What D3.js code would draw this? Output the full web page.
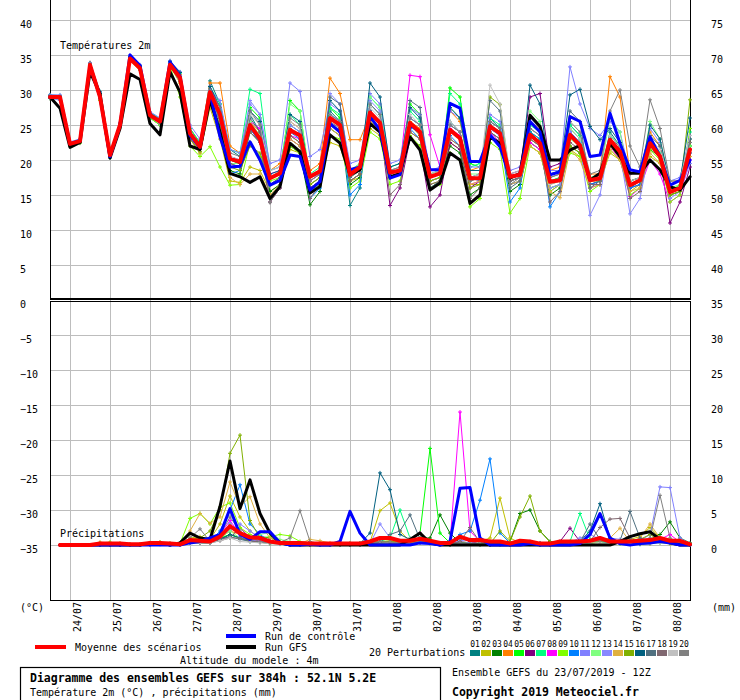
<!DOCTYPE html>
<html><head><meta charset="utf-8">
<script src="https://cdn.jsdelivr.net/npm/d3@7"></script>
<style>
body{margin:0;background:#fff;}
svg text{font-family:"DejaVu Sans Mono",monospace;fill:#000;}
</style></head><body>
<svg id="c" width="740" height="700"></svg>
<script>
// ---------- categories / ticks ----------
const dates = ["24/07","25/07","26/07","27/07","28/07","29/07","30/07","31/07","01/08","02/08","03/08","04/08","05/08","06/08","07/08","08/08"];
const dateHours = [12,36,60,84,108,132,156,180,204,228,252,276,300,324,348,372];
const leftTicks = [40,35,30,25,20,15,10,5,0,-5,-10,-15,-20,-25,-30,-35];
const rightTicks = [75,70,65,60,55,50,45,40,35,30,25,20,15,10,5,0];
const upperGrid = [40,35,30,25,20,15,10,5];
const lowerGrid = [-5,-10,-15,-20,-25,-30,-35];
const memberNames = ["01","02","03","04","05","06","07","08","09","10","11","12","13","14","15","16","17","18","19","20"];
const memberColors = ["#008080","#c0c000","#008000","#ff8000","#00ff00","#800080","#00ff80","#ff00ff","#80ff00","#0080ff","#8080ff","#80ff80","#8888ff","#e0b040","#80b000","#006080","#507080","#806870","#c0c0c0","#808080"];

// ---------- temperature 2m (°C), every 6h from 23/07 12Z (65 values) ----------
const tempMean = [29.0,29.0,22.3,22.7,33.6,29.0,20.7,25.0,34.5,33.1,26.4,25.5,33.6,31.8,23.8,21.9,29.7,26.5,20.2,19.7,25.0,23.0,17.4,18.1,24.3,23.5,17.6,18.4,26.0,25.0,17.9,19.0,26.8,25.3,18.2,18.5,25.3,24.0,17.6,18.1,24.3,23.1,17.4,17.4,24.8,23.8,17.6,17.9,23.6,22.4,16.9,17.1,23.6,22.1,17.1,17.4,22.9,21.2,16.4,17.1,22.4,20.5,15.4,16.0,21.5];
const tempControl = [29.0,29.0,22.3,22.8,33.5,29.0,20.5,25.0,35.0,33.5,26.5,25.5,34.0,32.0,23.5,21.8,29.5,23.3,19.0,19.1,22.6,20.0,16.4,17.1,20.7,20.5,15.7,16.9,25.2,24.0,18.6,19.0,26.2,24.3,17.4,17.9,25.0,24.0,18.6,18.6,28.1,27.4,19.8,19.8,23.6,21.9,17.6,17.9,25.5,24.0,17.9,18.3,26.2,25.5,20.5,20.7,26.7,22.4,18.6,18.3,23.3,20.5,16.4,17.1,20.0];
const tempGFS = [29.0,27.4,21.8,22.5,32.6,29.5,20.3,24.5,32.3,31.5,25.2,23.6,32.6,29.7,22.0,21.5,28.6,24.0,18.1,17.6,16.8,17.6,14.5,16.2,22.4,21.2,15.3,16.2,23.6,22.4,17.9,18.6,25.2,24.0,17.6,18.1,23.3,21.4,15.7,16.7,21.0,20.0,13.8,15.0,23.3,22.4,17.4,18.1,26.4,24.8,20.0,20.0,21.4,22.1,17.1,18.1,22.4,20.5,18.1,18.1,20.0,18.6,16.2,15.7,17.6];
const tempP01 = [29.3,29.2,22.0,22.5,33.8,29.8,20.3,24.8,34.8,33.5,26.0,25.0,34.0,32.5,24.5,22.3,31.3,28.0,21.5,20.5,26.5,24.0,17.5,18.0,25.0,24.0,16.5,17.5,27.0,25.5,13.5,16.0,28.0,26.5,18.5,18.5,26.0,25.0,17.0,17.5,25.5,24.0,17.0,17.5,26.0,24.5,16.5,17.0,24.0,22.5,16.0,16.5,25.0,23.5,17.0,17.5,24.0,22.0,16.0,17.0,23.0,21.0,15.5,16.0,23.0];
const tempP02 = [29.2,28.8,22.5,23.0,33.8,29.5,20.8,25.3,34.2,33.0,26.8,25.8,33.4,31.0,23.0,21.0,27.5,23.0,17.0,16.8,19.0,18.5,15.5,16.5,21.5,21.0,16.0,17.0,22.5,22.0,17.0,17.5,24.5,23.5,17.5,18.0,24.0,23.0,16.5,17.0,22.5,21.5,16.5,16.5,23.5,22.5,17.0,17.5,22.0,21.0,16.0,16.5,21.5,20.5,16.5,17.0,21.0,20.0,15.5,16.5,20.5,19.5,15.0,15.5,20.5];
const tempP03 = [28.8,28.7,22.2,22.8,33.4,29.0,20.6,24.9,34.3,33.0,26.3,25.3,33.5,31.5,23.5,21.5,28.5,25.0,18.5,18.0,24.0,22.5,15.5,16.5,22.0,21.0,13.6,15.5,24.5,23.5,16.5,17.5,25.5,24.5,17.5,18.0,23.0,22.0,16.0,17.0,22.0,21.0,15.0,16.0,24.0,23.0,15.5,16.5,22.5,21.5,15.0,16.0,22.0,21.0,17.0,17.5,22.5,21.5,17.0,17.5,21.5,20.5,15.0,15.5,22.0];
const tempP04 = [29.1,29.0,22.4,22.9,33.9,29.3,20.9,25.2,34.6,33.2,26.5,25.6,33.8,32.2,24.5,22.5,31.0,31.0,22.0,21.0,25.5,24.0,18.5,19.5,25.5,24.5,18.5,19.5,31.7,29.5,22.9,22.9,26.5,25.0,17.5,18.0,25.5,24.5,18.0,18.5,27.0,25.5,18.5,19.0,23.5,22.5,17.0,17.5,25.5,24.5,18.5,19.0,23.0,22.5,18.0,18.0,31.9,29.0,18.0,18.5,24.0,22.0,17.0,17.0,22.5];
const tempP05 = [28.9,29.0,22.3,22.6,33.5,28.8,20.6,25.0,34.4,33.0,26.2,25.4,33.5,31.8,24.0,22.0,29.0,26.0,20.0,19.5,27.5,26.0,17.5,18.0,28.5,27.0,17.0,18.0,27.5,26.0,18.0,19.0,27.0,25.5,18.0,18.5,28.0,26.5,17.5,18.0,30.3,29.0,19.5,19.0,25.0,24.0,17.5,18.0,24.0,23.0,17.0,17.5,24.5,23.0,17.5,17.5,23.5,22.0,16.5,17.0,23.0,21.0,15.5,16.5,22.0];
const tempP06 = [29.0,28.9,22.1,22.6,33.6,29.2,20.7,25.1,34.5,33.0,26.6,25.7,33.7,31.9,23.5,21.5,29.5,26.5,20.5,20.0,24.5,22.5,14.0,16.0,23.0,22.0,16.0,17.0,25.0,24.0,17.0,18.0,26.5,25.0,13.5,16.0,23.0,22.0,13.3,15.0,22.5,21.5,16.0,17.0,25.0,24.0,18.0,18.5,29.0,29.5,19.0,19.5,23.5,22.0,16.5,17.0,22.5,21.0,16.0,16.5,22.0,20.5,11.0,14.0,19.0];
const tempP07 = [29.1,29.1,22.5,22.9,33.7,29.6,20.9,25.3,34.7,33.4,26.8,25.9,34.0,32.4,24.5,22.5,30.5,28.0,21.5,21.0,30.1,29.5,18.5,19.0,26.5,25.0,18.0,19.0,27.5,26.5,18.5,19.5,29.0,27.5,19.0,19.5,27.0,25.5,18.0,18.5,29.5,28.0,19.0,19.5,26.0,25.0,17.5,18.0,25.0,24.0,17.0,17.5,25.0,23.5,17.0,17.5,23.5,22.0,16.5,17.0,22.5,21.0,15.5,16.0,24.0];
const tempP08 = [29.0,28.8,22.2,22.5,33.4,28.9,20.5,24.8,34.3,33.0,26.3,25.4,33.5,31.6,24.0,22.2,30.5,27.5,20.0,19.8,25.5,24.5,18.0,18.5,23.5,23.0,17.0,18.0,26.5,25.5,18.0,18.5,27.0,25.5,18.5,19.0,32.1,31.9,23.6,19.0,24.5,23.5,16.5,17.0,24.0,22.5,17.0,17.5,22.5,21.5,15.5,16.5,24.0,22.5,16.0,16.5,22.0,20.0,14.8,16.0,20.0,18.0,14.0,15.0,20.0];
const tempP09 = [29.0,28.7,22.0,22.4,33.5,28.5,20.5,24.6,34.2,32.8,26.0,25.0,33.4,29.0,22.0,20.5,21.9,19.0,16.4,16.5,22.5,20.5,17.0,17.5,22.0,21.0,15.5,16.5,23.5,23.0,16.0,17.0,24.0,23.0,16.5,17.0,23.5,22.0,16.0,16.5,21.0,20.0,13.3,14.5,22.5,21.5,12.4,14.5,22.0,21.0,15.5,16.5,21.0,20.5,15.5,16.5,21.5,20.0,15.0,16.0,21.5,20.0,14.0,15.0,24.5];
const tempP10 = [29.2,29.1,22.3,22.7,33.6,29.1,20.6,24.9,34.6,33.3,26.5,25.4,33.7,32.0,23.5,21.5,29.5,25.5,18.0,18.5,24.5,22.5,16.5,17.0,24.0,23.0,14.5,16.0,26.5,25.5,15.0,16.5,27.0,25.5,17.5,18.0,24.5,23.0,17.0,17.5,23.5,22.0,17.5,17.0,24.5,23.5,14.0,16.0,24.0,23.0,13.3,15.5,24.0,22.5,16.5,17.0,23.0,21.5,16.0,16.5,22.5,20.5,15.5,16.0,21.0];
const tempP11 = [29.3,29.3,22.6,23.0,33.9,29.7,21.0,25.4,35.0,33.6,26.9,26.0,34.2,32.6,25.0,23.0,30.0,28.5,21.5,21.0,28.0,26.5,19.5,20.0,31.0,29.8,20.5,21.5,28.0,27.0,19.5,20.0,29.5,28.0,19.5,20.0,27.5,26.5,18.5,19.0,27.0,26.0,19.0,19.0,26.5,25.5,18.5,19.0,26.0,24.5,18.5,18.5,33.3,28.0,24.5,23.5,25.5,24.0,18.0,18.5,24.5,22.5,17.0,17.5,23.5];
const tempP12 = [29.0,29.0,22.4,22.8,33.6,29.0,20.8,25.1,34.5,33.1,26.4,25.6,33.6,31.7,23.8,21.9,29.0,26.0,19.5,19.5,25.5,23.5,17.5,18.5,28.0,27.0,17.5,18.5,26.0,25.0,18.5,19.5,29.0,27.5,18.5,19.0,25.0,24.0,18.0,18.5,27.5,26.0,18.0,18.0,23.5,22.5,17.0,17.5,27.0,25.5,16.0,16.5,23.0,22.0,17.5,18.0,26.0,24.0,16.5,17.0,25.5,23.0,16.0,16.5,22.0];
const tempP13 = [28.9,28.5,22.1,22.6,33.4,28.9,20.4,24.7,34.4,32.9,26.2,25.2,33.5,31.5,23.8,22.0,30.0,27.5,20.5,20.0,28.5,26.5,18.5,19.0,25.0,24.0,17.5,18.0,29.5,28.0,18.5,19.0,28.5,27.0,18.0,18.5,26.0,25.0,17.0,17.5,25.0,24.0,17.5,18.0,24.5,23.5,16.5,17.0,23.0,22.0,16.0,16.5,24.0,22.0,12.1,15.0,23.0,21.0,12.3,14.5,22.0,20.5,14.5,15.5,19.5];
const tempP14 = [29.1,29.0,22.4,22.9,33.7,29.4,20.9,25.2,34.6,33.2,26.6,25.7,33.7,31.0,23.0,21.0,28.0,24.0,17.5,16.5,18.0,18.0,15.0,16.5,23.0,22.0,16.5,17.5,24.5,23.5,17.5,18.5,25.5,24.5,17.5,18.0,24.0,23.0,17.0,17.5,23.0,22.0,16.5,17.0,23.5,22.5,16.5,17.0,22.0,21.0,15.5,14.6,21.5,20.0,16.0,16.5,21.5,20.0,15.5,16.0,21.0,19.5,15.5,16.0,20.5];
const tempP15 = [29.0,28.9,22.3,22.7,33.5,29.1,20.7,25.0,34.4,33.1,26.4,25.5,33.6,31.3,23.0,21.2,28.0,24.5,19.0,18.5,22.0,21.0,16.5,17.5,23.5,22.5,16.5,17.5,25.0,24.0,17.0,18.0,26.0,24.5,17.5,18.0,25.0,23.5,17.0,17.5,24.0,23.0,16.0,16.5,29.0,27.9,17.5,18.0,23.0,22.0,16.5,17.0,22.0,21.0,17.0,17.0,22.0,20.5,16.5,17.0,22.0,20.5,15.0,15.5,28.6];
const tempP16 = [29.2,29.1,22.4,22.8,33.8,29.5,20.8,25.2,34.7,33.4,26.6,25.7,34.1,32.5,24.0,22.0,30.5,27.5,20.0,19.5,27.0,25.5,18.0,18.5,26.5,25.5,17.5,18.5,28.5,27.0,18.0,18.5,31.0,29.0,19.0,19.5,27.5,26.0,17.5,18.0,27.5,26.0,18.5,18.5,25.5,24.5,17.0,17.5,30.7,28.0,18.0,18.5,29.3,30.1,24.8,22.9,24.5,22.5,17.0,17.5,25.0,23.0,16.5,17.0,26.0];
const tempP17 = [29.0,29.0,22.2,22.6,33.5,29.0,20.6,24.9,34.4,33.0,26.4,25.5,33.5,31.5,23.5,21.5,29.0,26.0,19.5,19.0,26.0,24.0,16.5,17.5,24.5,23.5,16.0,17.0,29.0,28.0,17.5,18.5,27.0,25.5,18.0,18.5,28.5,27.5,16.0,17.0,25.0,24.0,17.5,18.0,28.5,27.0,16.0,17.0,24.5,23.5,17.5,18.0,27.0,25.5,16.0,17.0,23.0,22.0,16.5,17.0,23.5,22.0,15.5,16.0,23.0];
const tempP18 = [28.8,28.8,22.1,22.5,33.3,28.7,20.5,24.8,34.3,32.9,26.2,25.3,33.4,31.2,23.0,21.5,28.5,25.5,19.5,19.0,24.0,22.5,14.0,16.0,23.5,22.5,14.5,16.5,25.5,24.5,17.0,18.0,26.0,24.5,15.0,16.5,24.0,23.0,16.5,17.0,23.0,22.0,14.5,16.0,24.0,23.0,17.0,17.5,23.0,22.0,14.0,15.5,22.5,21.5,16.5,16.5,22.0,21.5,14.5,15.5,22.0,20.5,16.0,16.0,21.0];
const tempP19 = [29.1,29.1,22.4,22.8,33.7,29.2,20.8,25.1,34.6,33.2,26.5,25.6,33.7,32.0,24.0,22.0,29.5,26.5,20.5,20.0,26.5,25.0,18.5,19.0,25.5,24.5,18.0,18.5,26.5,25.5,18.0,18.5,27.5,26.0,18.5,19.0,26.5,25.0,18.0,18.5,25.5,24.0,17.5,18.0,30.7,28.0,18.0,18.5,24.5,23.5,16.5,17.0,24.5,23.0,17.0,17.5,23.5,22.0,17.0,17.5,23.0,21.5,17.0,17.0,23.5];
const tempP20 = [29.0,29.0,22.3,22.7,33.6,29.0,20.7,25.0,34.5,33.1,26.4,25.5,33.6,31.8,23.8,22.0,30.0,27.5,21.0,20.5,27.0,25.0,13.9,16.5,26.0,25.0,17.0,18.0,26.5,25.5,18.0,19.0,28.0,26.5,18.5,19.0,26.0,25.0,17.5,18.0,25.0,24.0,17.0,17.5,25.5,24.5,16.5,17.5,24.5,23.5,17.5,18.0,25.5,24.0,18.0,18.5,27.0,30.0,22.0,19.0,28.6,24.5,17.0,17.0,22.5];

// ---------- precipitation (mm / 6h), from 23/07 18Z (64 values) ----------
const precMean = [0,0,0,0,0.2,0.2,0.2,0.1, 0.1,0.3,0.3,0.2,0.1,0.7,0.6,0.5, 1.2,2.7,1.7,1.1,1.0,0.5,0.3,0.3, 0.3,0.2,0.2,0.2,0.2,0.2,0.2,0.5, 1.0,1.0,0.6,0.6,0.9,0.6,0.3,0.3, 1.2,0.7,0.7,0.5,0.5,0.2,0.6,0.5, 0.2,0.2,0.5,0.5,0.5,0.6,1.0,0.5, 0.5,0.5,0.6,0.7,1.0,0.6,0.6,0.1];
const precControl = [0,0,0,0,0,0,0,0, 0,0,0,0,0,0.3,0.5,1.0, 1.5,5.2,1.5,0.8,1.9,1.9,0.3,0, 0,0.1,0,0,0.5,4.8,1.7,0, 0,0,0,0,0.3,0.2,0,0.5, 8.1,8.2,1.0,0,0,0,0,0.2, 0,0,0,0,0.2,1.5,4.5,1.0, 0.2,0,0.2,0.3,0.5,0.3,0,0];
const precGFS = [0,0,0,0,0,0,0,0, 0,0.3,0.3,0,0.3,1.7,1.0,0.8, 5.5,12.0,5.2,9.3,4.5,1.7,0.3,0, 0,0,0,0,0,0,0,0, 0,0,0,0.8,1.7,0.3,0,0, 0,0,0,0,0,0,0,0, 0,0,0,0,0,0,0,0, 0.5,1.2,1.6,1.9,0.8,0.3,0,0];
const precP01 = [0,0,0,0,0.1,0.2,0.1,0, 0,0.2,0.2,0.1,0,0.5,0.4,0.6, 1.0,2.5,1.5,0.8,0.5,0.3,0.2,0.1, 0.1,0,0,0.1,0,0.2,0.1,0.3, 0.5,0.4,0.2,0.3,0.5,0.3,0.1,0, 0.3,0.2,0.1,0,0.1,0,0.2,0.3, 0,0,0.2,0.1,0.3,0.5,1.0,0.4, 0.2,0.3,0.1,0.2,0.5,0.3,0.2,0];
const precP02 = [0,0,0,0,0.3,0.3,0.2,0.1, 0.1,0.3,0.4,0.2,0.1,1.0,1.2,0.8, 3.0,7.0,4.0,2.0,1.0,0.5,0.3,0.2, 0.2,0.1,0.2,0.1,0.1,0.3,0.2,0.4, 4.9,6.0,2.0,0.5,0.4,0.3,0.2,0.1, 0.2,0.3,0.5,1.0,6.7,1.0,0.3,0.2, 0.1,0.1,0.2,0.3,0.2,0.4,0.5,0.3, 0.5,0.8,1.2,2.5,1.0,0.4,0.3,0.1];
const precP03 = [0,0,0,0,0.1,0.1,0.1,0, 0,0.2,0.2,0.1,0,0.4,0.3,0.3, 0.8,1.5,1.0,0.6,1.2,1.0,0.5,0.3, 0.2,0.1,0.1,0.1,0.2,0.1,0.1,0.3, 0.4,0.5,0.3,0.2,1.0,1.0,4.3,1.7, 0.3,0.2,0.1,0.2,0.3,0.5,4.5,5.0, 2.0,0.5,0.3,0.2,0.4,0.3,0.5,0.4, 0.3,0.4,0.5,0.8,1.5,3.3,1.0,0.3];
const precP04 = [0,0,0,0,0.2,0.1,0.1,0, 0,0.1,0.2,0.1,0,0.6,0.5,0.4, 1.0,2.0,1.5,0.8,0.6,0.3,0.2,0.2, 0.1,0.1,0,0.1,0.1,0,0.1,0.2, 0.5,0.5,0.3,0.3,0.4,0.2,0.1,0.1, 0.5,0.3,0.2,0.1,0.2,0.1,0.2,0.3, 0.1,0,0.2,0.3,0.2,0.3,0.6,0.4, 0.3,0.5,0.3,0.2,0.4,0.2,0.1,0];
const precP05 = [0,0,0,0,0.1,0.2,0.1,0, 0,0.2,0.3,0.1,0.1,0.8,0.6,0.5, 1.0,1.5,1.0,0.5,0.4,0.2,0.2,0.1, 0.1,0.1,0,0,0.1,0.1,0.1,0.3, 0.4,0.6,0.4,0.5,1.7,13.8,1.7,0.3, 0.4,0.2,0.2,0.1,0.1,0,0.2,0.2, 0.1,0.1,0.3,0.2,0.2,0.3,0.6,0.3, 0.2,0.3,0.4,0.3,0.5,0.3,0.2,0];
const precP06 = [0,0,0,0,0.1,0.1,0.1,0, 0,0.1,0.2,0.1,0,0.5,0.5,0.3, 1.0,1.0,2.5,1.0,0.6,0.3,0.2,0.1, 0.1,0,0.1,0,0,0.1,0.1,0.2, 0.4,0.3,0.3,0.2,0.5,0.4,0.2,0.1, 1.0,0.5,0.2,0.1,0.2,0.1,0.3,0.2, 0.1,0.1,0.5,2.4,0.5,0.3,0.4,0.3, 0.2,0.3,0.2,0.4,0.6,0.5,0.3,0];
const precP07 = [0,0,0,0,0.2,0.1,0.1,0, 0,0.2,0.2,0.1,0,0.4,0.5,0.5, 1.2,3.0,1.5,1.0,0.8,0.4,0.3,0.2, 0.1,0.1,0.1,0,0.1,0.1,0.2,0.3, 0.5,1.0,5.0,1.0,0.5,0.3,0.2,0.2, 0.3,0.2,0.2,0.1,0.1,0.2,0.2,0.3, 0.2,0.1,0.3,0.5,4.5,0.8,0.5,0.3, 0.2,0.3,0.4,0.3,0.5,0.4,0.3,0.1];
const precP08 = [0,0,0,0,0.1,0.1,0,0, 0,0.1,0.2,0.1,0,0.5,0.4,0.5, 1.5,3.5,1.5,0.8,0.6,0.3,0.2,0.1, 0.1,0.1,0,0,0.1,0,0.1,0.2, 0.4,0.5,0.3,0.5,1.7,0.5,0.3,0.3, 19.0,2.0,0.5,0.3,0.2,0.1,0.2,0.2, 0.1,0.1,0.2,0.3,0.2,0.3,0.4,0.3, 0.3,0.2,0.3,0.5,0.8,1.5,0.4,0.1];
const precP09 = [0,0,0,0,0.3,0.4,0.2,0.1, 0.1,0.3,0.3,0.2,0.2,3.8,4.5,3.0, 5.4,6.0,2.5,1.5,1.0,1.2,1.5,1.3, 0.5,0.3,0.2,0.1,0.2,0.1,0.2,0.3, 0.5,0.4,0.3,0.2,0.3,0.3,0.2,0.1, 0.3,0.2,0.1,0.1,0.2,0.1,0.2,0.3, 0.1,0.1,0.2,0.2,0.3,0.2,0.4,0.3, 0.2,0.2,0.4,0.3,0.3,0.2,0.2,0];
const precP10 = [0,0,0,0,0.1,0.1,0.1,0, 0,0.1,0.2,0.1,0,0.3,0.4,0.5, 2.0,5.0,8.6,3.0,1.5,0.5,0.3,0.2, 0.1,0.1,0.1,0,0,0.1,0.1,0.2, 0.3,0.4,0.3,0.2,0.3,0.2,0.1,0.2, 1.5,2.0,6.4,12.3,1.7,0.3,0.2,0.1, 0.1,0,0.2,0.3,0.2,0.3,0.5,0.2, 0.2,0.3,0.2,0.3,0.4,0.3,0.2,0];
const precP11 = [0,0,0,0,0.2,0.2,0.1,0.1, 0.1,0.2,0.3,0.2,0.1,0.6,0.5,0.5, 1.5,2.0,3.0,2.0,1.0,0.5,0.3,0.2, 0.2,0.1,0.1,0.1,0.1,0.2,0.1,0.3, 0.4,0.5,0.4,0.3,0.4,0.3,0.2,0.3, 0.5,0.3,0.2,0.2,0.3,0.2,0.3,0.3, 0.2,0.1,0.3,0.3,0.4,0.5,0.6,1.0, 0.8,0.5,0.6,1.5,8.3,8.2,1.0,0.2];
const precP12 = [0,0,0,0,0.1,0.1,0.1,0, 0,0.1,0.2,0.1,0,0.4,0.4,0.3, 1.0,2.0,1.0,0.8,1.5,1.8,0.8,0.5, 0.3,0.2,0.1,0.1,0.1,0.1,0.2,0.2, 0.4,0.4,0.5,0.3,0.6,0.5,0.3,0.2, 0.3,0.2,0.2,0.1,0.1,0.2,0.3,0.3, 0.2,0.1,0.2,0.3,0.5,0.4,0.3,0.2, 0.2,0.3,0.3,0.4,0.6,0.4,0.2,0.1];
const precP13 = [0,0,0,0,0.1,0.2,0.1,0, 0,0.2,0.2,0.1,0.1,0.5,0.4,0.4, 1.2,3.0,1.2,0.7,0.5,0.3,0.2,0.2, 0.1,0.1,0.1,0,0.1,0.1,0.1,0.2, 3.0,1.0,0.6,0.3,0.4,0.3,0.2,0.2, 0.6,0.8,0.3,0.2,0.2,0.1,0.2,0.5, 0.3,0.2,0.3,0.4,1.0,1.5,0.8,0.3, 0.3,0.4,1.0,0.6,0.5,0.3,0.2,0.1];
const precP14 = [0,0,0,0,0.4,0.3,0.2,0.1, 0.1,0.3,0.4,0.2,0.2,2.0,4.5,3.1, 4.0,9.0,5.5,6.9,3.0,1.0,0.5,0.3, 0.2,0.8,0.6,0.3,0.2,0.2,0.1,0.3, 0.5,0.6,0.4,0.3,0.5,0.4,0.2,0.2, 0.3,0.2,0.3,0.2,0.4,0.2,0.3,0.4, 0.2,0.2,0.3,0.3,0.4,0.5,0.6,1.0, 2.4,0.5,1.0,3.0,1.0,0.5,0.3,0.1];
const precP15 = [0,0,0,0,0.2,0.2,0.1,0, 0,0.2,0.3,0.1,0.1,0.8,1.0,2.0, 5.0,13.1,15.7,3.5,1.0,0.5,0.3,0.2, 0.1,0.1,0.1,0.1,0.1,0.1,0.2,0.3, 0.5,0.5,0.4,0.3,0.4,0.3,0.2,0.2, 0.3,0.2,0.2,0.2,2.0,0.5,4.0,7.0, 2.0,0.4,0.3,0.2,0.3,0.3,0.5,0.4, 0.3,0.5,0.8,1.5,0.6,0.4,0.2,0.1];
const precP16 = [0,0,0,0,0.1,0.1,0.1,0, 0,0.1,0.2,0.1,0,0.4,0.3,0.3, 0.8,1.5,1.0,0.6,0.4,0.3,0.2,0.1, 0.1,0,0,0.1,0,0.1,0.2,1.7, 10.3,7.9,1.5,0.8,0.5,0.3,0.2,0.2, 0.3,0.2,0.2,0.1,0.2,0.2,0.3,0.3, 0.2,0.1,0.2,0.3,0.5,2.0,5.9,1.0, 0.4,0.5,0.4,0.6,0.8,0.5,0.3,0.1];
const precP17 = [0,0,0,0,0.1,0.1,0,0, 0,0.1,0.2,0.1,0,0.3,0.3,0.4, 0.8,1.2,0.8,0.5,0.5,0.3,0.2,0.1, 0.1,0.1,0,0,0.1,0.1,0.1,0.2, 0.4,1.5,2.0,4.3,0.8,0.4,0.2,0.1, 0.2,0.2,0.1,0.1,0.2,0.1,0.2,0.3, 0.2,0.1,0.2,0.3,0.4,3.0,0.8,0.5, 0.6,4.8,1.0,0.6,0.5,0.4,0.2,0.1];
const precP18 = [0,0,0,0,0.1,0.1,0.1,0, 0,0.1,0.1,0.1,0,0.4,0.3,0.3, 0.6,1.0,1.0,0.6,0.4,0.2,0.2,0.1, 0.1,0,0.1,0,0,0.1,0.1,0.2, 0.3,0.4,0.3,0.2,0.4,0.3,0.2,0.1, 0.5,2.5,0.4,0.2,0.2,0.1,0.2,0.3, 0.2,0.1,0.2,0.3,0.5,0.5,2.5,3.7, 3.8,1.0,0.4,0.5,0.6,0.4,0.2,0.1];
const precP19 = [0,0,0,0,0.1,0.1,0.1,0, 0,0.1,0.1,0,0,0.3,0.3,0.3, 0.6,1.0,0.5,0.4,0.3,0.2,0.1,0.1, 0,0,0,0,0,0.1,0.1,0.1, 0.2,0.3,0.2,1.0,0.3,0.2,0.1,0.1, 0.2,0.1,0.1,0.1,0.1,0,0.1,0.2, 0.1,0,0.1,0.2,0.2,0.3,0.3,0.2, 0.2,0.2,0.3,0.2,0.3,0.2,0.1,0];
const precP20 = [0,0,0,0,0.1,0.1,0.1,0, 0,0.2,0.3,0.1,0.1,1.0,2.3,0.5, 1.5,4.0,2.0,1.0,0.5,0.3,0.4,1.0, 4.9,0.5,0.2,0.1,0.1,0.1,0.2,0.3, 0.5,0.4,0.3,0.4,0.5,0.3,0.2,0.1, 0.3,0.2,0.1,0.1,0.2,0.2,0.3,0.3, 0.2,0.1,0.2,0.4,0.5,0.5,0.6,0.4, 0.3,0.5,0.6,1.0,7.1,1.0,0.3,0.1];

const tempMembers = [tempP01,tempP02,tempP03,tempP04,tempP05,tempP06,tempP07,tempP08,tempP09,tempP10,tempP11,tempP12,tempP13,tempP14,tempP15,tempP16,tempP17,tempP18,tempP19,tempP20];
const precMembers = [precP01,precP02,precP03,precP04,precP05,precP06,precP07,precP08,precP09,precP10,precP11,precP12,precP13,precP14,precP15,precP16,precP17,precP18,precP19,precP20];

// ---------- drawing ----------
const svg = d3.select("#c");
const hours = d3.range(0, 385, 6);          // forecast steps
const x = d3.scaleLinear().domain([0, 384]).range([50, 690]);
const yT = d3.scaleLinear().domain([-35, 40]).range([545, 20]);   // left scale (°C)
const yP = d3.scaleLinear().domain([0, 75]).range([545, 20]);     // right scale (mm)

const grid = svg.append("g").attr("stroke", "#bdbdbd").attr("stroke-width", 1).attr("shape-rendering", "crispEdges");
grid.selectAll("line.h").data(upperGrid.concat(lowerGrid)).join("line")
  .attr("x1", 50).attr("x2", 690).attr("y1", d => yT(d) + 0.5).attr("y2", d => yT(d) + 0.5);
grid.selectAll("line.v").data(dateHours).join("line")
  .attr("x1", d => x(d) + 0.5).attr("x2", d => x(d) + 0.5).attr("y1", 0).attr("y2", 600);

// frames
const frame = svg.append("g").attr("stroke", "#000").attr("stroke-width", 1.5).attr("fill", "none").attr("shape-rendering", "crispEdges");
frame.append("path").attr("d", "M50.5,0 V299 H690.5 V0");
frame.append("path").attr("d", "M50.5,301.5 H690.5 M50.5,301 V600.5 H690.5 V301");

// axes labels
const axL = svg.append("g").attr("transform", "translate(20,0)")
  .call(d3.axisLeft(yT).tickValues(leftTicks).tickSize(0).tickFormat(d3.format("d")));
axL.select(".domain").remove();
axL.selectAll("text").attr("x", 0).attr("dy", null).attr("y", 7.5).attr("text-anchor", "start")
  .style("font-family", "DejaVu Sans Mono").style("font-size", "10px").attr("fill", "#000");
const axR = svg.append("g").attr("transform", "translate(711,0)")
  .call(d3.axisRight(yP).tickValues(rightTicks).tickSize(0).tickFormat(d3.format("d")));
axR.select(".domain").remove();
axR.selectAll("text").attr("x", 0).attr("dy", null).attr("y", 7.5).attr("text-anchor", "start")
  .style("font-family", "DejaVu Sans Mono").style("font-size", "10px").attr("fill", "#000");

// date labels
svg.append("g").selectAll("text").data(dates).join("text")
  .attr("transform", (d, i) => `translate(${x(dateHours[i]) + 11},602) rotate(-90)`)
  .attr("text-anchor", "end").attr("font-size", 10).attr("fill", "#000").text(d => d);

// data lines
const lineT = d3.line().x((d, i) => x(hours[i])).y(d => yT(d));
const lineP = d3.line().x((d, i) => x(hours[i + 1])).y(d => yP(d));

function drawMember(vals, line, yScale, color, xs) {
  const g = svg.append("g");
  g.append("path").attr("d", line(vals)).attr("fill", "none").attr("stroke", color).attr("stroke-width", 1);
  g.selectAll("path.m").data(vals).join("path").attr("class", "m")
    .attr("d", (d, i) => { const px = x(xs[i]), py = yScale(d);
      return `M${px - 2},${py} h4 M${px},${py - 2} v4`; })
    .attr("stroke", color).attr("stroke-width", 1).attr("fill", "none");
}
tempMembers.forEach((s, k) => drawMember(s, lineT, yT, memberColors[k], hours));
precMembers.forEach((s, k) => drawMember(s, lineP, yP, memberColors[k], hours.slice(1)));

function drawThick(vals, line, color, w) {
  svg.append("path").attr("d", line(vals)).attr("fill", "none").attr("stroke", color)
    .attr("stroke-width", w).attr("stroke-linejoin", "round").attr("stroke-linecap", "round");
}
drawThick(tempGFS, lineT, "#000", 3);
drawThick(precGFS, lineP, "#000", 3);
drawThick(tempControl, lineT, "#0000ff", 3);
drawThick(precControl, lineP, "#0000ff", 3);
drawThick(tempMean, lineT, "#ff0000", 4);
drawThick(precMean, lineP, "#ff0000", 4);

// panel titles
svg.append("text").attr("x", 60).attr("y", 48.5).attr("font-size", 10).attr("fill", "#000").text("Températures 2m");
svg.append("text").attr("x", 60).attr("y", 536.5).attr("font-size", 10).attr("fill", "#000").text("Précipitations");
svg.append("text").attr("x", 20).attr("y", 610.5).attr("font-size", 10).attr("fill", "#000").text("(°C)");
svg.append("text").attr("x", 712).attr("y", 610.5).attr("font-size", 10).attr("fill", "#000").text("(mm)");

// legend
svg.append("rect").attr("x", 35).attr("y", 645).attr("width", 31).attr("height", 4).attr("fill", "#ff0000");
svg.append("text").attr("x", 75).attr("y", 650.5).attr("font-size", 10).attr("fill", "#000").text("Moyenne des scénarios");
svg.append("rect").attr("x", 226).attr("y", 634).attr("width", 30).attr("height", 4).attr("fill", "#0000ff");
svg.append("text").attr("x", 265).attr("y", 639.5).attr("font-size", 10).attr("fill", "#000").text("Run de contrôle");
svg.append("rect").attr("x", 226).attr("y", 645).attr("width", 30).attr("height", 4).attr("fill", "#000");
svg.append("text").attr("x", 265).attr("y", 650.5).attr("font-size", 10).attr("fill", "#000").text("Run GFS");
svg.append("text").attr("x", 180).attr("y", 663.5).attr("font-size", 10).attr("fill", "#000").text("Altitude du modele : 4m");
svg.append("text").attr("x", 369).attr("y", 656).attr("font-size", 10).attr("fill", "#000").text("20 Perturbations");
const leg = svg.append("g");
leg.selectAll("rect").data(memberNames).join("rect")
  .attr("x", (d, i) => 470 + 11 * i).attr("y", 650).attr("width", 10).attr("height", 6)
  .attr("fill", (d, i) => memberColors[i]);
leg.selectAll("text").data(memberNames).join("text")
  .attr("x", (d, i) => 475 + 11 * i).attr("y", 647).attr("text-anchor", "middle")
  .attr("font-size", 8).attr("fill", "#000").text(d => d);

// title box
svg.append("rect").attr("x", 20.5).attr("y", 667.5).attr("width", 420).attr("height", 34)
  .attr("fill", "none").attr("stroke", "#000").attr("stroke-width", 1.2);
svg.append("text").attr("x", 30).attr("y", 681.5).attr("font-size", 11.5).attr("font-weight", "bold").attr("fill", "#000")
  .text("Diagramme des ensembles GEFS sur 384h : 52.1N 5.2E");
svg.append("text").attr("x", 30).attr("y", 695.5).attr("font-size", 10).attr("fill", "#000")
  .text("Température 2m (°C) , précipitations (mm)");
svg.append("text").attr("x", 452).attr("y", 675.5).attr("font-size", 10).attr("fill", "#000").text("Ensemble GEFS du 23/07/2019 - 12Z");
svg.append("text").attr("x", 452).attr("y", 696).attr("font-size", 11.5).attr("font-weight", "bold").attr("fill", "#000")
  .text("Copyright 2019 Meteociel.fr");
</script>
</body></html>
